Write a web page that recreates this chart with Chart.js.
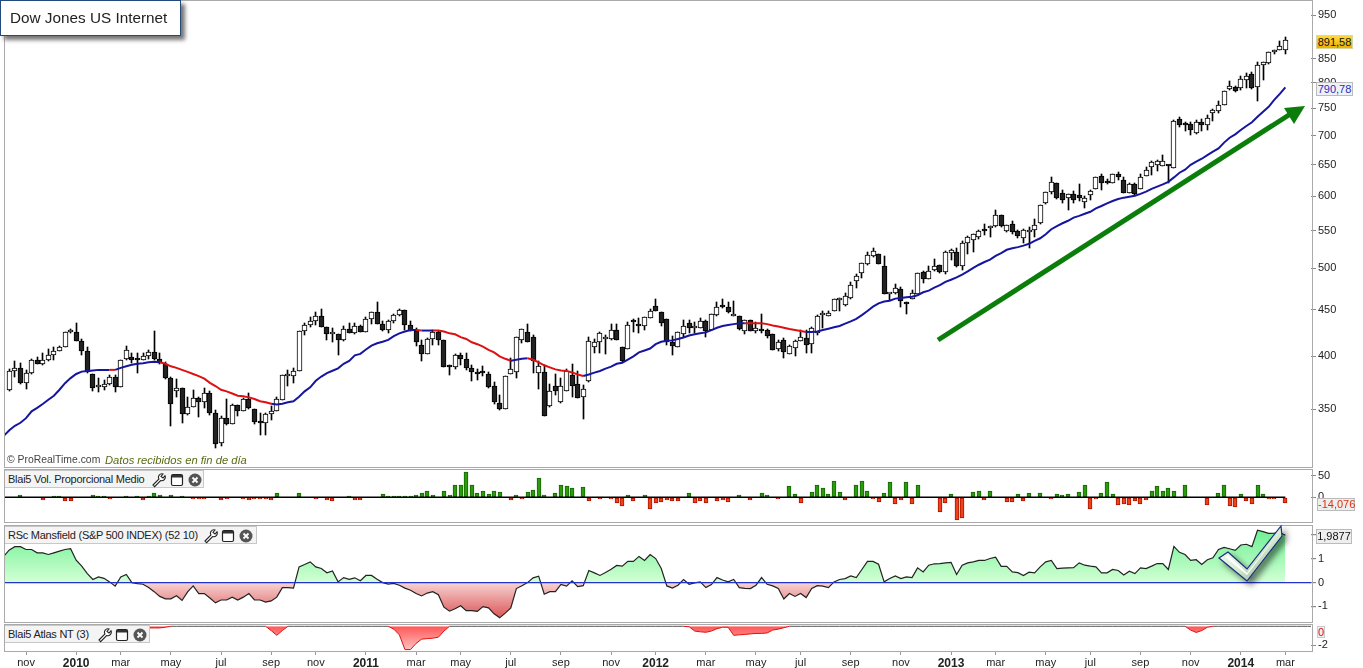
<!DOCTYPE html>
<html lang="en">
<head>
<meta charset="UTF-8">
<title>Dow Jones US Internet</title>
<script src="https://cdn.jsdelivr.net/npm/chart.js"></script>
<style>
    html, body { margin: 0; padding: 0; background: #fff; overflow: hidden; }
    body { width: 1363px; height: 668px; position: relative; font-family: "Liberation Sans", Arial, sans-serif; }
    canvas { position: absolute; left: 0; }
    .frame { position: absolute; left: 4px; width: 1307px; border: 1px solid #aaa; box-sizing: content-box; pointer-events: none; }
    .title { position: absolute; left: 0; top: 0; width: 179px; height: 34px; line-height: 34px; background: #fff; border: 1px solid #234a7c;
             box-shadow: 4px 4px 4px #777; font-size: 15.3px; color: #222; text-indent: 9px; box-sizing: content-box; }
    .legend { position: absolute; left: 5px; height: 16px; line-height: 16px; background: #f4f4f4; border: 1px solid #c8c8c8; border-left: none;
              font-size: 11px; letter-spacing: -0.25px; color: #222; text-indent: 3px; white-space: nowrap; }
    .legend svg { position: absolute; top: 1px; }
    .value { position: absolute; font-size: 11px; text-align: center; border: 1px solid #bbb; background: #eee; box-sizing: border-box; }
    .credit { position: absolute; left: 7px; top: 454px; font-size: 10.4px; color: #444; white-space: nowrap; }
    .credit i { position: absolute; left: 98px; top: 0; font-size: 11.2px; color: #566a10; }
    #marks { position: absolute; left: 0; top: 0; pointer-events: none; }
</style>
</head>
<body>
<canvas id="priceChart" width="1363" height="465" style="top:1px"></canvas>
<canvas id="volChart" width="1363" height="52" style="top:470px"></canvas>
<canvas id="rsChart" width="1363" height="96" style="top:526px"></canvas>
<canvas id="atlasChart" width="1363" height="43" style="top:625px"></canvas>

<div class="frame" style="top:0;height:466px"></div>
<div class="frame" style="top:469px;height:52px"></div>
<div class="frame" style="top:525px;height:96px"></div>
<div class="frame" style="top:624px;height:26px"></div>

<div class="title">Dow Jones US Internet</div>
<div class="credit">© ProRealTime.com <i>Datos recibidos en fin de día</i></div>

<div class="legend" id="legVol" style="top:470px;width:198px">Blai5 Vol. Proporcional Medio</div>
<div class="legend" id="legRs" style="top:526px;width:251px">RSc Mansfield (S&amp;P 500 INDEX) (52 10)</div>
<div class="legend" id="legAtlas" style="top:625px;width:144px">Blai5 Atlas NT (3)</div>

<div class="value" style="left:1316px;top:35px;width:37px;height:14px;line-height:12px;background:linear-gradient(#ffd83a,#eeb000);border-color:#d8d8a0;color:#111">891,58</div>
<div class="value" style="left:1316px;top:82px;width:37px;height:14px;line-height:12px;background:#f0f0f6;color:#2233bb">790,78</div>
<div class="value" style="left:1317px;top:498px;width:38px;height:13px;line-height:11px;color:#dd3311">-14,076</div>
<div class="value" style="left:1316px;top:529px;width:36px;height:15px;line-height:13px;color:#111">1,9877</div>
<div class="value" style="left:1317px;top:626px;width:8px;height:12px;line-height:10px;color:#dd1111;border-color:#ccc">0</div>

<svg id="marks" width="1363" height="668">
    <defs>
        <linearGradient id="tick" x1="0" y1="0" x2="1" y2="1">
            <stop offset="0" stop-color="#ffffff"/>
            <stop offset="0.55" stop-color="#d6ecd2"/>
            <stop offset="1" stop-color="#6d9a70"/>
        </linearGradient>
    </defs>
    <line x1="938" y1="340" x2="1292" y2="113" stroke="#0b7d0b" stroke-width="5"/>
    <polygon points="1284,108 1305,106 1294,124" fill="#0b7d0b"/>
    <g style="filter:drop-shadow(4px 4px 3px rgba(0,0,0,.55))">
        <polygon points="1219,558 1228,552 1247,569 1281,526 1282,536 1247,581" fill="url(#tick)" stroke="#1b2a80" stroke-width="1.2"/>
        <polygon points="1225,557 1228,555 1247,573 1278,534 1247,575" fill="#fff"/>
    </g>
</svg>

<script>
    // weekly bars, oct 2009 to mar 2014
    const opens = [367,385,388,374,383,396,392,396,401,405,410,425,425,416,405,382,370,370.5,372.5,379.5,370.5,397,399,396.5,396.5,400,404,397,392,379,366,369,345.5,352,359.5,356,364.5,346.5,321,342,337,353.5,348,359,350,338.5,338,345.5,348.5,358,381,381,385,427,433,437,443.5,431,423.5,423.5,416.5,429,424.5,432,425.5,440,447,434.5,428,438,444,450,433,427,412,402,418,425.5,417,389.8,389,401,397,388,384,385.5,382,371,355,350,382,384,416.5,425.5,420,383.8,384,352.4,371,356,366,381.5,373,361,376,410,414.5,418,418,428,410,407,437,432.5,432,441,454.5,447,440,415,410,423.5,435.8,430,430,437,428,444,456,453,443.5,443,426,438.6,426,428,428,423.5,407,417,402,409,416,419,412.5,424,444,443.5,449,461,455,464,484,494,505,516,518,503,468.5,470,475,459.5,462,469,495.5,487,498,504,495,520,521.5,503,532.7,536.5,541,551,553.5,556,571.7,550,559,549,540.5,548,551.5,560.4,589.5,607,620,604.5,598,604,601.5,592,602,612,632,620.5,620.5,635,626,605.5,619.5,612,632,646.5,650,648,650,644,730,719.5,721,704.5,725,719.5,741,744,757,787,792,789,806,818,791,837,842,865,869.5,869];
    const highs = [387,395,393,386,397,399,403,407,410,411,425,429,435,418,410,382,379,377,381.5,381.5,396.5,411,403,403,403,406,426.5,403,394,379.5,378,369,361,367.5,361,369,366,349.4,343.5,359,354.7,353.5,360,364.4,350,346.5,346.5,352.3,361,381.5,386.5,388,427,435.5,441.5,447,450.5,431,429.5,423.5,431.5,435,435.5,433.5,442.4,447.5,458.5,438,439,445,450.5,450,438,429.5,417,419,427.5,427,417,391.5,402,403,403,391.5,387,390.5,384,375,362.7,380.4,398,420,429,434,422,395,391.5,373,382.7,378.5,387,392,385.5,372,420.5,418,425,422,434,434,410,436,440,441,441.5,450.5,463,447,440,421,425,438.6,438.6,436,441,439,445,458.5,463,459.5,460,443,438.6,438.6,436.8,445,428.5,423.5,417,419,412,417,428,428,431,444,449,449,462.5,463.5,470,483,493,507,521,526,518,516,469,480.7,477,459.5,473,493.5,497,502.8,512.5,504,522,525.5,526,535.7,543,546,551,560,556.5,579,571.7,557.5,563,551,552,555.5,567,587.6,607,629.5,620,610,603,608,619,600.5,610,629.8,635.5,627,635.5,638,630.5,620,620.5,635,647,657,658.5,667,650,728,734,725,725,728,730,737.5,749,764,783.5,804,793,814,821,823,843,843,866,870,889.5,898];
    const lows = [366,380,373,368,382,392,391,395,396,405,410,424,416,401,383,366,365,367,372,365.5,370,396,393,383,396,397,396,392,378,335.5,361,338,345,352,342.7,350.8,345,317,318.6,336.5,337,343.5,348,350,337,327.5,327.5,340,348,358,371,373.7,385,422.7,431,433,430.6,416.5,415,401.5,416,424,423.5,425,425,434,434,427,424.7,435,443,427.5,427,411,394.8,402,412,412,389.8,381.7,387,391.5,386,376,377,381,369,354.8,349.5,350,382,379,414,414.5,383.3,368,343.6,351.8,363,355.4,366,361,360,341.5,375,403,403,402.5,417,417,394.5,407,425,424,427.7,440.5,449,432,411.7,401.5,410,420.5,424.5,424,429.5,420.5,428,443.5,452.5,446.5,443,428,423.5,426.5,424.5,424,419,406,405.5,398,402,400.5,416,403,403.5,422,430,443,449,449,454.5,463,476,488,504.5,515,505,468,461.4,469,453,445,462,469,482,487,496.5,493.5,492.5,511,501.5,498,518.5,520.5,539,543.5,541.5,555.5,555.5,548,546,540,533,527,541.5,560,589,603,595.5,589.5,579,590,592.5,583,595,612,610,618.5,620,625,605,605,602,612,632,633,640,647.5,621,644,716,708,701,702.5,708,709,726,741,755.6,786,782.5,785,790,788,763,806,840,860,869,861];
    const closes = [385,388,374,383,396,392,396,401,405,410,425,426,416,405,384,369.5,370,372.5,379.5,370.5,396,406,396,396,400,404,397,393,379,354.5,369,345.5,352,359.5,356,364.5,346.5,320.5,342,337,353.5,348,359,351,338.7,338,345.5,348.2,359,381.5,381,385.7,426.8,433,437,443,431,423.5,423.5,416.5,429,424.5,432,425.5,440,447,434.5,428,438,444,450,433,427,415,402,418,425.5,417,389.8,389.5,401,397,388,384,382,383,369.7,356,350,380.4,387,420,429,414.5,394.8,390,343.6,366,366,371,385.5,370.7,360,368,415.5,414.5,424,418,428,417,395,433,436.5,432,441.5,448.5,449,435.5,415,410.5,425,432.5,430,432.5,438,426,445,453.7,453,447,443.5,428.5,438.6,427,429.5,426,421,406.5,414.5,404,411,416,420.5,412,429.5,443.5,444,446,462,463,465.5,479,490,506.5,517,522,505.5,468,468.5,476,460,457,470,493.5,486.5,496.5,503.5,495,520.5,523.5,503,532.7,541,544.8,549,549,556,571.7,557,557.5,548,543,551,550.5,558,587.6,607,622,597.6,595,603,595,598,597.5,607.5,629.8,620,620,635,629.5,605,619,604,629.5,641,655,655.5,655.5,647.5,726.5,719.5,719,709,725,718,732,746.5,755.6,783.5,793,784,807,813,789,837,843,864.5,869,878,891.58];

    const movingAvg = [331.6,335.4,338,342,348,351,354.5,358.3,362,367.5,373.7,378.5,382.5,384.8,385.5,386,386.5,386.5,386.5,386.5,388.5,390,391.5,392.5,393,394,394.5,394,392.5,390,388.5,386.5,384.5,382.5,380.5,378,374,371,367.5,366,364,362,361.5,360.5,359,357,356,354.7,354,354.7,356,357,361,366,369.8,376,380,383.3,385.6,388,392.5,395.4,401,402.5,407,411,413.5,415,417,421,424,426,427.5,427.5,427,427,427,427,426,424,423,420,418,414.5,412.5,410,406.6,404,400,397.5,395.5,396.5,397.5,398,396.5,394,391,389,387,386,385.5,384,382,380.5,382,383.8,385.4,387.7,389.7,392.5,393.5,396.7,400,404,406,408,412.5,415,416,416.5,418,419.5,421.7,423,424,425,427.5,430,432,433,434,435,435,435,435,435,434,432.5,431.3,430,428.7,427.6,426.5,425.5,425.5,426,427.6,429,430.5,432,434.5,437,439.8,444,448.7,453.7,457.5,459.6,460.6,463,463.8,464.5,465.2,467,470.5,472.5,476,479,483,485.7,488.5,492,496,500.5,504.5,508,511,516,519.5,524,526,527.5,529.5,532,536,539.5,545,552,556.5,560.4,564,568.5,571,574,577,582,585.5,589.5,593,596,598,599.5,601,603.8,607.3,611.5,615,618.5,622.5,629.5,637,642,650,655,660,666,672,677.6,687.5,696,702,709.8,717,724,734,743.6,752.8,766,778,790.78];
    const movingAvgBefore = 327;
    const maFalling = [[18,19],[27,47],[73,74],[76,90],[93,103],[132,143]];

    const volumes = [0,0,5,-2,-2,-2,-6,-2,2,4,-9,-9,0,0,-2,5,4,2,-5,-2,0,2,0,2,-6,2,9,5,0,5,0,2,0,-5,-5,-5,-2,-2,-6,-5,0,-2,-5,-6,-5,-5,-5,-6,9,-2,0,-2,9,0,-2,-5,0,-6,-8,0,-2,2,-6,-6,0,-2,0,7,2,4,4,2,4,5,11,14,5,0,14,6,29,29,58,29,9,14,7,14,12,0,-7,5,-5,12,16,44,5,0,9,29,26,21,0,23,-9,0,-5,0,-5,-14,-21,5,-9,-2,5,-28,-14,-12,-7,-9,-9,-2,9,-14,-9,-14,0,-9,-7,-12,-2,5,0,-7,0,9,5,-2,-5,-2,26,7,-14,0,12,29,21,7,37,12,-7,0,29,37,14,-5,-12,9,35,-16,-7,35,-16,29,0,0,-2,-33,-14,7,-53,-49,-2,12,14,-7,14,0,0,-12,-12,7,-9,9,-2,9,-2,-5,7,5,7,-2,12,29,-28,-5,9,35,7,-19,-16,-19,-9,-16,-7,14,26,14,21,14,0,29,0,0,-2,-19,-2,9,29,-21,-23,7,-9,-16,28,7,-5,-5,-2,-14.076];

    const mansfield = [1.37,1.51,1.51,1.39,1.39,1.25,1.25,1.18,1.25,1.32,1.39,1.42,0.94,0.69,0.38,0.13,0.24,0.18,0.03,-0.15,0.24,0.34,0,-0.04,-0.07,-0.21,-0.38,-0.58,-0.68,-0.68,-0.55,-0.75,-0.39,-0.14,-0.46,-0.46,-0.65,-0.85,-0.73,-0.73,-0.61,-0.73,-0.61,-0.46,-0.73,-0.73,-0.82,-0.77,-0.61,-0.21,-0.21,-0.23,0.66,0.76,0.87,0.66,0.59,0.41,0.49,0.03,0.21,0.14,0.2,0.08,0.3,0.3,0.14,0,-0.06,-0.03,-0.11,-0.23,-0.32,-0.46,-0.56,-0.44,-0.38,-0.51,-1.03,-1.2,-1.1,-0.97,-1.18,-1.18,-1.21,-1.01,-1.06,-1.31,-1.48,-1.28,-1.06,-0.25,-0.13,0,0.2,0.27,-0.49,-0.38,-0.38,-0.08,-0.15,0.07,-0.17,-0.13,0.51,0.41,0.3,0.42,0.56,0.72,0.69,0.89,0.89,1.1,0.93,1.18,1.01,0.59,-0.14,-0.23,-0.11,0.13,-0.07,-0.01,0.03,-0.21,-0.08,0.21,0.11,0.03,0.13,-0.21,-0.24,-0.25,-0.11,0.21,-0.07,-0.14,-0.25,-0.69,-0.46,-0.58,-0.46,-0.63,-0.25,-0.13,-0.15,-0.21,0.03,0.13,0.17,0.28,0.21,0.55,0.89,0.89,0.77,0.03,0.17,0.28,0.17,0.24,0.21,0.62,0.45,0.73,0.79,0.8,0.83,0.85,0.34,0.73,0.83,0.87,0.93,0.93,1.01,1.07,0.68,0.68,0.45,0.42,0.3,0.44,0.41,0.66,0.87,0.93,0.59,0.61,0.62,0.63,0.83,0.73,0.69,0.66,0.41,0.41,0.55,0.51,0.32,0.48,0.38,0.62,0.59,0.69,0.8,0.8,0.55,1.52,1.27,1.18,0.93,0.96,0.76,0.96,1.04,1.39,1.48,1.42,1.35,1.58,1.61,1.51,2.2,2.14,2.07,2.08,2.1,1.9877];
    const mansfieldBefore = 1.1;

    const atlas = [0,0,0,0,0,0,0,0,0,0,0,0,0,0,0,0,0,0,0,0,0,0,0,0,0,-0.17,-0.17,-0.17,-0.1,0,0,0,0,0,0,0,0,0,0,0,0,0,0,0,0,0,0,-0.45,-0.95,-0.45,0,0,0,0,0,0,0,0,0,0,0,0,0,0,0,0,0,0,0,-0.3,-0.9,-2.45,-2.45,-1.8,-1.35,-1.3,-1.25,-1.15,-0.5,0,0,0,0,0,0,0,0,0,0,0,0,0,0,0,0,0,0,0,0,0,0,0,0,0,0,0,0,0,0,0,0,0,0,0,0,0,0,0,0,0,0,0,-0.05,-0.5,-0.58,-0.63,-0.5,-0.25,-0.1,-0.1,-0.95,-0.9,-0.85,-0.8,-0.75,-0.75,-0.7,-0.4,-0.3,-0.15,0,0,0,0,0,0,0,0,0,0,0,0,0,0,0,0,0,0,0,0,0,0,0,0,0,0,0,0,0,0,0,0,0,0,0,0,0,0,0,0,0,0,0,0,0,0,0,0,0,0,0,0,0,0,0,0,0,0,0,0,0,0,0,0,0,0,0,0,0,0,0,0,-0.4,-0.65,-0.45,-0.1,0,0,0,0,0,0,0,0,0,0,0,0,0,0,0,0,0,0,0,0,0,0,0,0];

    // x axis: which week each month label sits under
    const tickWeeks = [3,12,20,29,38,47,55,64,73,81,90,99,108,116,125,134,142,151,160,169,177,186,194,203,212,221,229];
    const tickNames = ['nov','2010','mar','may','jul','sep','nov','2011','mar','may','jul','sep','nov','2012','mar','may','jul','sep','nov','2013','mar','may','jul','sep','nov','2014','mar'];

    const priceTicks = [950,850,800,750,700,650,600,550,500,450,400,350];
    const volTicks = [50,0];
    const rsTicks = [2,1,0,-1];
    const atlasTicks = [-2];

    const xMin = -0.772, xMax = 233.6;
    const font = { family: '"Liberation Sans", Arial, sans-serif', size: 11 };

    // bars land on whole pixels so the candles stay sharp
    const snapBars = {
        id: 'snapBars',
        afterDatasetsUpdate(chart) {
            chart.getSortedVisibleDatasetMetas().forEach(meta => {
                if (meta.type !== 'bar') return;
                meta.data.forEach(b => {
                    const off = Math.round(b.width) % 2 ? 0.5 : 0;
                    b.x = Math.round(b.x - off) + off;
                    b.y = Math.round(b.y);
                    b.base = Math.round(b.base);
                });
            });
        }
    };

    function hiddenX() {
        return { type: 'linear', min: xMin, max: xMax, offset: false, display: false };
    }

    // width fixed and label padding dropped, so each plot area fills its panel
    function rightAxis(ticks, extra) {
        return Object.assign({
            position: 'right',
            afterFit: s => { s.width = 52; s.paddingTop = 0; s.paddingBottom = 0; },
            afterBuildTicks: s => { s.ticks = ticks.map(value => ({ value })); },
            border: { display: false },
            grid: { drawOnChartArea: false, tickLength: 5, tickColor: '#888' },
            ticks: { color: '#222', font, padding: 2, autoSkip: false, callback: v => String(v) }
        }, extra);
    }

    function baseOptions(x, y) {
        return {
            responsive: false,
            animation: false,
            events: [],
            layout: { autoPadding: false, padding: { left: 5, right: 0, top: 0, bottom: 0 } },
            plugins: { legend: { display: false }, tooltip: { enabled: false } },
            scales: { x, y }
        };
    }

    const isFalling = i => maFalling.some(r => i >= r[0] && i < r[1]);

    // price panel
    new Chart(document.getElementById('priceChart'), {
        type: 'bar',
        plugins: [snapBars],
        data: {
            datasets: [
                {
                    type: 'line',
                    order: 1,
                    data: [{ x: -1, y: movingAvgBefore }].concat(movingAvg.map((y, x) => ({ x, y }))),
                    borderWidth: 2,
                    borderColor: '#1515a0',
                    pointRadius: 0,
                    tension: 0,
                    segment: { borderColor: c => isFalling(c.p0DataIndex - 1) ? '#dd1111' : '#1515a0' }
                },
                {
                    order: 2,
                    grouped: false,
                    barThickness: 5,
                    minBarLength: 2,
                    data: opens.map((o, x) => ({ x, y: [o, closes[x]] })),
                    backgroundColor: opens.map((o, i) => closes[i] >= o ? '#ffffff' : '#222222'),
                    borderColor: '#000',
                    borderWidth: 1,
                    borderSkipped: false
                },
                {
                    order: 3,
                    grouped: false,
                    barThickness: 1,
                    data: lows.map((l, x) => ({ x, y: [l, highs[x]] })),
                    backgroundColor: '#000',
                    borderWidth: 0
                }
            ]
        },
        options: baseOptions(hiddenX(), rightAxis(priceTicks, { type: 'logarithmic', bounds: 'data', min: 950 * Math.exp(-451 / 394.6), max: 950 * Math.exp(14 / 394.6) }))
    });

    // volume panel
    new Chart(document.getElementById('volChart'), {
        type: 'bar',
        plugins: [snapBars],
        data: {
            datasets: [
                {
                    type: 'line',
                    order: 1,
                    data: [{ x: -1, y: 0 }].concat(volumes.map((v, x) => ({ x, y: 0 }))),
                    borderColor: '#000',
                    borderWidth: 1.4,
                    pointRadius: 0
                },
                {
                    order: 2,
                    barThickness: 4,
                    data: volumes.map((y, x) => ({ x, y })),
                    backgroundColor: volumes.map(v => v >= 0 ? '#2b9a0c' : '#f0421a'),
                    borderColor: volumes.map(v => v >= 0 ? '#136800' : '#a81500'),
                    borderWidth: 1,
                    borderSkipped: false
                }
            ]
        },
        options: baseOptions(hiddenX(), rightAxis(volTicks, { min: -57.4, max: 63.5 }))
    });

    // relative strength panel
    const rsCanvas = document.getElementById('rsChart');
    const rsCtx = rsCanvas.getContext('2d');
    const rsZero = 56.3;
    const rsAbove = rsCtx.createLinearGradient(0, 0, 0, rsZero);
    rsAbove.addColorStop(0, '#66f08e');
    rsAbove.addColorStop(1, '#d2ffd4');
    const rsBelow = rsCtx.createLinearGradient(0, rsZero, 0, 96);
    rsBelow.addColorStop(0, '#f8d4d4');
    rsBelow.addColorStop(1, '#d84848');

    new Chart(rsCanvas, {
        type: 'line',
        data: {
            datasets: [{
                data: [{ x: -1, y: mansfieldBefore }].concat(mansfield.map((y, x) => ({ x, y }))),
                borderColor: '#222',
                borderWidth: 1.2,
                pointRadius: 0,
                tension: 0,
                fill: { target: { value: 0 }, above: rsAbove, below: rsBelow }
            }]
        },
        options: baseOptions(hiddenX(), rightAxis(rsTicks, {
            min: -1.654,
            max: 2.376,
            grid: {
                z: 1,
                lineWidth: 1.2,
                tickLength: 5,
                tickColor: '#888',
                color: c => c.tick && c.tick.value === 0 ? '#2233cc' : 'transparent'
            }
        }))
    });

    // atlas panel, carries the date axis
    const atlasCanvas = document.getElementById('atlasChart');
    const atlasFill = atlasCanvas.getContext('2d').createLinearGradient(0, 1, 0, 26);
    atlasFill.addColorStop(0, '#ff5555');
    atlasFill.addColorStop(1, '#ffc8c8');

    new Chart(atlasCanvas, {
        type: 'line',
        data: {
            datasets: [{
                data: atlas.map((y, x) => ({ x, y })),
                borderColor: '#e01010',
                borderWidth: 1,
                pointRadius: 0,
                tension: 0,
                fill: { target: { value: 0 }, below: atlasFill, above: 'transparent' },
                segment: { borderColor: c => c.p0.parsed.y === 0 && c.p1.parsed.y === 0 ? '#555' : undefined }
            }]
        },
        options: baseOptions({
            type: 'linear',
            min: xMin,
            max: xMax,
            afterFit: s => { s.height = 17; s.paddingLeft = 0; s.paddingRight = 0; },
            afterBuildTicks: s => { s.ticks = tickWeeks.map(value => ({ value })); },
            border: { display: false },
            grid: { drawOnChartArea: false, tickLength: 4, tickColor: '#999' },
            ticks: {
                autoSkip: false,
                maxRotation: 0,
                padding: 1,
                color: '#222',
                font: c => {
                    const name = tickNames[tickWeeks.indexOf(c.tick ? c.tick.value : -1)] || '';
                    return /^\d/.test(name) ? { family: font.family, size: 12, weight: 'bold' } : font;
                },
                callback: v => tickNames[tickWeeks.indexOf(v)]
            }
        }, rightAxis(atlasTicks, { min: -2.6, max: 0.137 }))
    });

    // small wrench, window and close icons on the panel legends
    function legendIcons(id, xs) {
        const wrench = '<path d="M3 13 L9 7 A3.4 3.4 0 0 1 13 2 L11 4.5 L13 6 L15 3.8 A3.6 3.6 0 0 1 10.6 8.6 L4.6 14.6 Z" fill="#fff" stroke="#222" stroke-width="1.1"/>';
        const win = '<rect x="2.5" y="2.5" width="11" height="11" rx="1.5" fill="#fff" stroke="#222" stroke-width="1.2"/><rect x="3" y="3" width="10" height="2.5" fill="#333"/>';
        const close = '<circle cx="8" cy="8" r="6.5" fill="#555"/><path d="M5.5 5.5 L10.5 10.5 M10.5 5.5 L5.5 10.5" stroke="#fff" stroke-width="1.8"/>';
        const box = document.getElementById(id);
        [wrench, win, close].forEach((shape, i) => {
            box.insertAdjacentHTML('beforeend', '<svg width="16" height="16" style="left:' + xs[i] + 'px">' + shape + '</svg>');
        });
    }
    legendIcons('legVol', [145, 164, 182]);
    legendIcons('legRs', [197, 215, 233]);
    legendIcons('legAtlas', [91, 109, 127]);
</script>
</body>
</html>
